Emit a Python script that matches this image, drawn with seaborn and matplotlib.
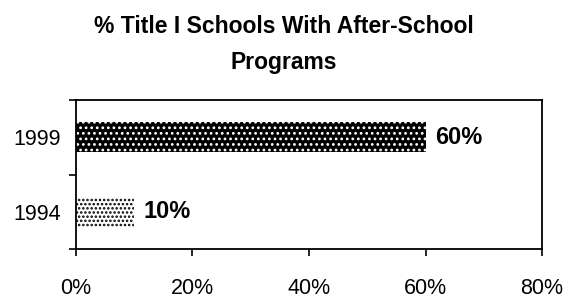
import pandas as pd
import numpy as np
import matplotlib
matplotlib.use('Agg')
import matplotlib.pyplot as plt
import seaborn as sns

# 데이터
years = ['1999', '1994']
values = [60, 10]
bar_labels = ['60%', '10%']
x_ticks = [0, 20, 40, 60, 80]
x_tick_labels = ['0%', '20%', '40%', '60%', '80%']
title = '% Title I Schools With After-School\nPrograms'

sns.set_style('white')
plt.rcParams['font.family'] = ['Liberation Sans', 'DejaVu Sans']
plt.rcParams['text.color'] = 'black'
plt.rcParams['xtick.color'] = 'black'
plt.rcParams['ytick.color'] = 'black'
plt.rcParams['hatch.linewidth'] = 1.2

df = pd.DataFrame({'year': years, 'pct': values})

fig = plt.figure(figsize=(5.67, 2.98), dpi=100)
ax = fig.add_axes([0.134, 0.164, 0.822, 0.5])

sns.barplot(data=df, x='pct', y='year', order=years, orient='h',
            width=0.4, ax=ax, color='black')

# 막대 무늬 (점 패턴)
styles = [('black', 'white', '...'), ('white', 'black', '....')]
for patch, (fc, hc, h) in zip(ax.patches, styles):
    patch.set_facecolor(fc)
    patch.set_edgecolor(hc)
    patch.set_hatch(h)
    patch.set_linewidth(0)

for patch, lab in zip(ax.patches, bar_labels):
    ax.annotate(lab, (patch.get_width(), patch.get_y() + patch.get_height() / 2),
                xytext=(7, 0), textcoords='offset points', va='center', ha='left',
                fontsize=17, fontweight='bold')

ax.set_xlim(0, 80)
ax.set_ylim(1.5, -0.5)
ax.set_xticks(x_ticks)
ax.set_xticklabels(x_tick_labels, fontsize=15.5)
ax.tick_params(axis='x', direction='out', length=5, width=1.2, pad=16, bottom=True)
ax.tick_params(axis='y', which='major', length=0, pad=11, labelsize=15.5)
ax.set_yticks([-0.5, 0.5, 1.5], minor=True)
ax.tick_params(axis='y', which='minor', direction='out', length=5, width=1.2, left=True)
ax.set_xlabel('')
ax.set_ylabel('')

for s in ax.spines.values():
    s.set_visible(True)
    s.set_color('black')
    s.set_linewidth(1.3)

fig.text(0.5, 0.95, title, ha='center', va='top', fontsize=16.5,
         fontweight='bold', linespacing=1.75)

fig.savefig('out.png', dpi=100)
